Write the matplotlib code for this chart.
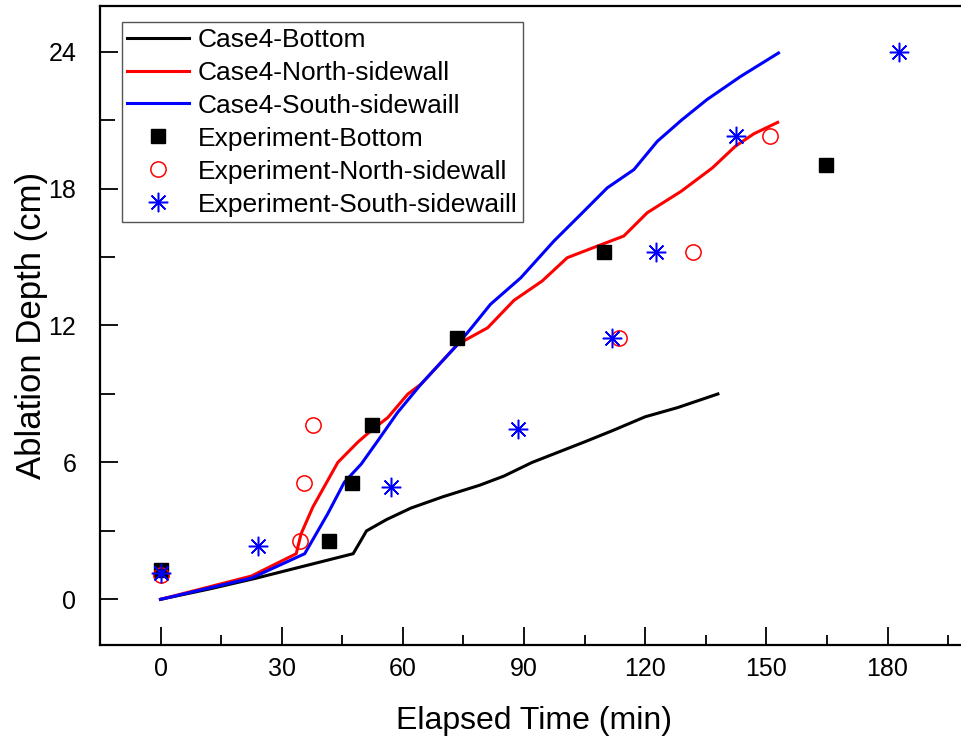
import matplotlib
matplotlib.use("Agg")
import matplotlib.pyplot as plt
from matplotlib.ticker import MultipleLocator

plt.rcParams['font.family'] = ['Liberation Sans', 'DejaVu Sans']

# Simulated ablation depth, Case 4
bottom_t = [0, 12, 23.5, 47.7, 51, 56, 62, 70, 79, 85, 92, 105, 112, 120, 128, 138]
bottom_d = [0, 0.45, 0.92, 2.0, 3.0, 3.5, 4.0, 4.5, 5.0, 5.4, 6.0, 6.9, 7.4, 8.0, 8.4, 9.0]

north_t = [0, 22.5, 33.6, 34.8, 37.7, 43.9, 48.8, 52.1, 56.3, 61.2, 64.5, 73.6, 81.0,
           87.5, 94.5, 100.7, 107, 114.7, 120.5, 128.9, 136.6, 142.3, 146.9, 152.8]
north_d = [0, 1.02, 2.0, 2.87, 4.04, 6.0, 6.88, 7.39, 7.97, 8.99, 9.43, 11.18, 11.9,
           13.1, 13.95, 14.97, 15.4, 15.92, 16.94, 17.88, 18.9, 19.85, 20.4, 20.9]

south_t = [0, 22.5, 35.7, 41.4, 45.5, 49.7, 53.8, 58.7, 64.5, 73.6, 77, 81.7, 89.2,
           97.4, 104, 110.6, 117.2, 123, 129, 135.3, 143.6, 153]
south_d = [0, 0.93, 2.0, 3.75, 5.13, 5.93, 6.95, 8.19, 9.43, 11.18, 11.9, 12.93, 14.09,
           15.7, 16.86, 18.03, 18.83, 20.07, 21.0, 21.9, 22.91, 23.94]

# Measured ablation depth
exp_bottom_t = [0, 41.7, 47.4, 52.3, 73.4, 109.8, 164.8]
exp_bottom_d = [1.27, 2.54, 5.08, 7.62, 11.43, 15.24, 19.05]

exp_north_t = [0, 34.6, 35.4, 37.8, 113.5, 131.8, 151.0]
exp_north_d = [1.05, 2.54, 5.08, 7.62, 11.43, 15.24, 20.32]

exp_south_t = [0, 24.1, 57.1, 88.4, 111.9, 122.6, 142.6, 182.9]
exp_south_d = [1.14, 2.33, 4.94, 7.46, 11.43, 15.24, 20.32, 24.0]

fig = plt.figure(figsize=(9.61, 7.40), dpi=100)
ax = fig.add_axes([0.104, 0.1284, 0.9036, 0.8635])

lw = 2.2
ax.plot(bottom_t, bottom_d, color='black', lw=lw, label='Case4-Bottom')
ax.plot(north_t, north_d, color='red', lw=lw, label='Case4-North-sidewall')
ax.plot(south_t, south_d, color='blue', lw=lw, label='Case4-South-sidewaill')

ax.plot(exp_bottom_t, exp_bottom_d, ls='none', marker='s', ms=10, color='black',
        label='Experiment-Bottom')
ax.plot(exp_north_t, exp_north_d, ls='none', marker='o', ms=11, mfc='none', mec='red',
        mew=1.1, label='Experiment-North-sidewall')
ax.plot(exp_south_t, exp_south_d, ls='none', marker=(8, 2, 0), ms=14, color='blue',
        mew=1.1, label='Experiment-South-sidewaill')

ax.set_xlim(-15, 200)
ax.set_ylim(-2, 26)
ax.xaxis.set_major_locator(MultipleLocator(30))
ax.xaxis.set_minor_locator(MultipleLocator(15))
ax.yaxis.set_major_locator(MultipleLocator(6))
ax.yaxis.set_minor_locator(MultipleLocator(3))

ax.tick_params(which='both', direction='in', top=False, right=False,
               labelsize=18, width=1.3)
ax.tick_params(axis='x', which='both', pad=9)
ax.tick_params(axis='y', which='both', pad=17)
ax.tick_params(axis='x', which='major', length=13)
ax.tick_params(axis='x', which='minor', length=7)
ax.tick_params(axis='y', which='major', length=13)
ax.tick_params(axis='y', which='minor', length=11)

for s in ax.spines.values():
    s.set_linewidth(1.6)
ax.spines['right'].set_visible(False)

ax.set_xlabel('Elapsed Time (min)', fontsize=23, labelpad=18)
ax.set_ylabel('Ablation Depth (cm)', fontsize=25, labelpad=0)

leg = ax.legend(loc='upper left', bbox_to_anchor=(0.025, 0.975), fontsize=19,
                frameon=True, fancybox=False, edgecolor='#555555', framealpha=1,
                handlelength=2.35, handletextpad=0.3, labelspacing=0.34,
                borderpad=0.22, borderaxespad=0)
leg.get_frame().set_linewidth(1.0)

fig.savefig('out.png', dpi=100)
